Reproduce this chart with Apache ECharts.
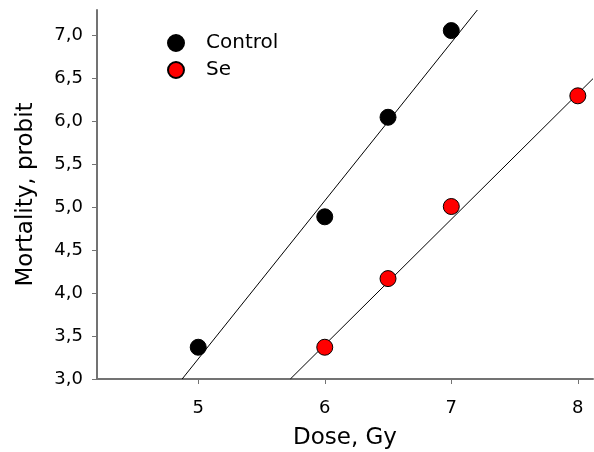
<!DOCTYPE html>
<html>
<head>
<meta charset="utf-8">
<script src="https://cdn.jsdelivr.net/npm/echarts@6/dist/echarts.min.js"></script>
<style>
html,body{margin:0;padding:0;background:#fff;}
#chart{width:594px;height:452px;}
</style>
</head>
<body>
<div id="chart"></div>
<script>
// Data
var seriesNames = ['Control', 'Se'];
var controlDose = [5, 6, 6.5, 7];
var controlProbit = [3.37, 4.89, 6.05, 7.06];
var seDose = [6, 6.5, 7, 8];
var seProbit = [3.37, 4.17, 5.01, 6.30];
// Fitted line end points
var controlFitDose = [4.873, 7.206];
var controlFitProbit = [3.0, 7.3];
var seFitDose = [5.728, 8.12];
var seFitProbit = [3.0, 6.50];
// Tick values
var xTicks = [5, 6, 7, 8];
var yTicks = [3.0, 3.5, 4.0, 4.5, 5.0, 5.5, 6.0, 6.5, 7.0];

function pairs(xs, ys) { return xs.map(function (x, i) { return [x, ys[i]]; }); }

var FONT = 'DejaVu Sans';
var axisColor = '#737373';

var chart = echarts.init(document.getElementById('chart'));
chart.setOption({
  animation: false,
  backgroundColor: '#fff',
  grid: { left: 97, right: 1, top: 10, bottom: 73, containLabel: false, outerBoundsMode: 'none' },
  legend: {
    data: seriesNames,
    orient: 'vertical',
    left: 162,
    top: 28,
    icon: 'circle',
    itemWidth: 16,
    itemHeight: 16,
    itemGap: 7,
    selectedMode: false,
    textStyle: { fontFamily: FONT, fontSize: 20, color: '#000', padding: [0, 0, 0, 17] }
  },
  xAxis: {
    type: 'value',
    min: 4.2,
    max: 8.12,
    name: 'Dose, Gy',
    nameLocation: 'middle',
    nameGap: 48,
    nameTextStyle: { fontFamily: FONT, fontSize: 23, color: '#000' },
    splitLine: { show: false },
    axisLine: { show: true, onZero: false, lineStyle: { color: axisColor, width: 2 } },
    axisTick: { show: true, length: 5, customValues: xTicks, lineStyle: { color: axisColor, width: 1 } },
    axisLabel: { customValues: xTicks, margin: 20, fontFamily: FONT, fontSize: 18, color: '#000',
      formatter: function (v) { return String(v); } }
  },
  yAxis: {
    type: 'value',
    min: 3.0,
    max: 7.3,
    name: 'Mortality, probit',
    nameLocation: 'middle',
    nameGap: 59,
    nameTextStyle: { fontFamily: FONT, fontSize: 23, color: '#000' },
    splitLine: { show: false },
    axisLine: { show: true, onZero: false, lineStyle: { color: axisColor, width: 2 } },
    axisTick: { show: true, length: 5, customValues: yTicks, lineStyle: { color: axisColor, width: 1 } },
    axisLabel: { customValues: yTicks, margin: 14, fontFamily: FONT, fontSize: 18, color: '#000',
      formatter: function (v) { return v.toFixed(1).replace('.', ','); } }
  },
  series: [
    {
      type: 'line', data: pairs(controlFitDose, controlFitProbit), showSymbol: false, silent: true,
      lineStyle: { color: '#000', width: 1 }, z: 1
    },
    {
      type: 'line', data: pairs(seFitDose, seFitProbit), showSymbol: false, silent: true,
      lineStyle: { color: '#000', width: 1 }, z: 1
    },
    {
      name: seriesNames[0], type: 'scatter', data: pairs(controlDose, controlProbit),
      symbol: 'circle', symbolSize: 16, z: 3,
      itemStyle: { color: '#000', borderColor: '#000', borderWidth: 1, opacity: 1 }
    },
    {
      name: seriesNames[1], type: 'scatter', data: pairs(seDose, seProbit),
      symbol: 'circle', symbolSize: 16, z: 3,
      itemStyle: { color: '#ff0000', borderColor: '#000', borderWidth: 1, opacity: 1 }
    }
  ]
});
</script>
</body>
</html>
